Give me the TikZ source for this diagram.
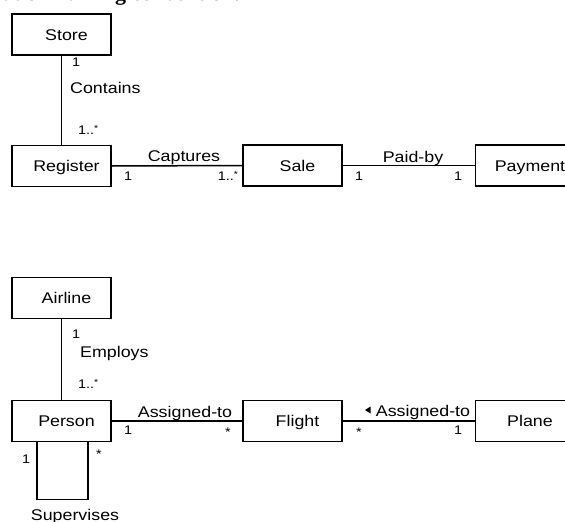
\documentclass[tikz,border=0pt]{standalone}
\usepackage{fontspec}
\setmainfont{Liberation Sans}
\newfontfamily\diagfont{Liberation Sans}[FakeStretch=1.15]
\newfontfamily\headfont{Liberation Serif}
\newcommand{\manystar}{\raisebox{3pt}{\fontsize{9}{9}\selectfont *}}
\begin{document}
\begin{tikzpicture}[x=1pt,y=-1pt,
  cls/.style={draw, line width=1.6pt, minimum width=99pt, minimum height=41pt,
    inner sep=0pt, text height=13pt, text depth=2pt,
    font=\diagfont\fontsize{15.5}{16}\selectfont,
    execute at begin node={\hspace*{10pt}}},
  assoc/.style={line width=1.5pt},
  aname/.style={inner sep=0pt, font=\diagfont\fontsize{15.5}{16}\selectfont},
  role/.style={inner sep=0pt, font=\diagfont\fontsize{12.5}{13}\selectfont}]
\useasboundingbox (0,0) rectangle (565,522);

% heading line running in from above
\node[anchor=base east, inner sep=0pt, font=\headfont\bfseries\fontsize{22}{22}\selectfont]
  (head) at (240,1) {for association naming convention.};

% ---- POS domain ----
\node[cls] (store)    at (61.5,34.5) {Store};
\node[cls] (register) at (61.5,166)  {Register};
\node[cls] (sale)     at (292.5,165.5) {Sale};
\node[cls] (payment)  at (525,165.5) {Payment};

\draw[assoc] (store.south) -- (register.north);
\draw[assoc] (register.east) -- (sale.west);
\draw[assoc] (sale.east) -- (payment.west);

\node[role]  (c1)  at (76,62)  {1};
\node[aname, anchor=west] (contains) at (70,88) {Contains};
\node[role, anchor=west] (c2) at (78,130) {1..\manystar};

\node[aname] (captures) at (184,158) {Captures};
\node[role]  (cap1) at (128,176) {1};
\node[role]  (cap2) at (228,176) {1..\manystar};

\node[aname] (paidby) at (413,158) {Paid-by};
\node[role]  (pb1) at (359,176) {1};
\node[role]  (pb2) at (458,176) {1};

% ---- Airline domain ----
\node[cls] (airline) at (61.5,298) {Airline};
\node[cls] (person)  at (61.5,421) {Person};
\node[cls] (flight)  at (292.5,421) {Flight};
\node[cls] (plane)   at (525,421) {Plane};

\draw[assoc] (airline.south) -- (person.north);
\draw[assoc] (person.east) -- (flight.west);
\draw[assoc] (flight.east) -- (plane.west);
\draw[assoc] ([xshift=-24.5pt]person.south) -- ++(0,57) -| ([xshift=26.5pt]person.south);

\node[role]  (e1) at (76,334) {1};
\node[aname, anchor=west] (employs) at (80,353) {Employs};
\node[role, anchor=west] (e2) at (78,384) {1..\manystar};

\node[aname] (assign1) at (185,413) {Assigned-to};
\node[role]  (a1) at (128,430) {1};
\node[role]  (a2) at (228,432) {*};

\node[aname] (assign2) at (423,412) {Assigned-to};
\fill (365,410) -- (370.5,406.5) -- (370.5,413.5) -- cycle;
\node[role]  (b1) at (359,432) {*};
\node[role]  (b2) at (458,430) {1};

\node[role]  (s1) at (26,459) {1};
\node[role]  (s2) at (99,454) {*};
\node[aname] (supervises) at (75,516) {Supervises};
\end{tikzpicture}
\end{document}
